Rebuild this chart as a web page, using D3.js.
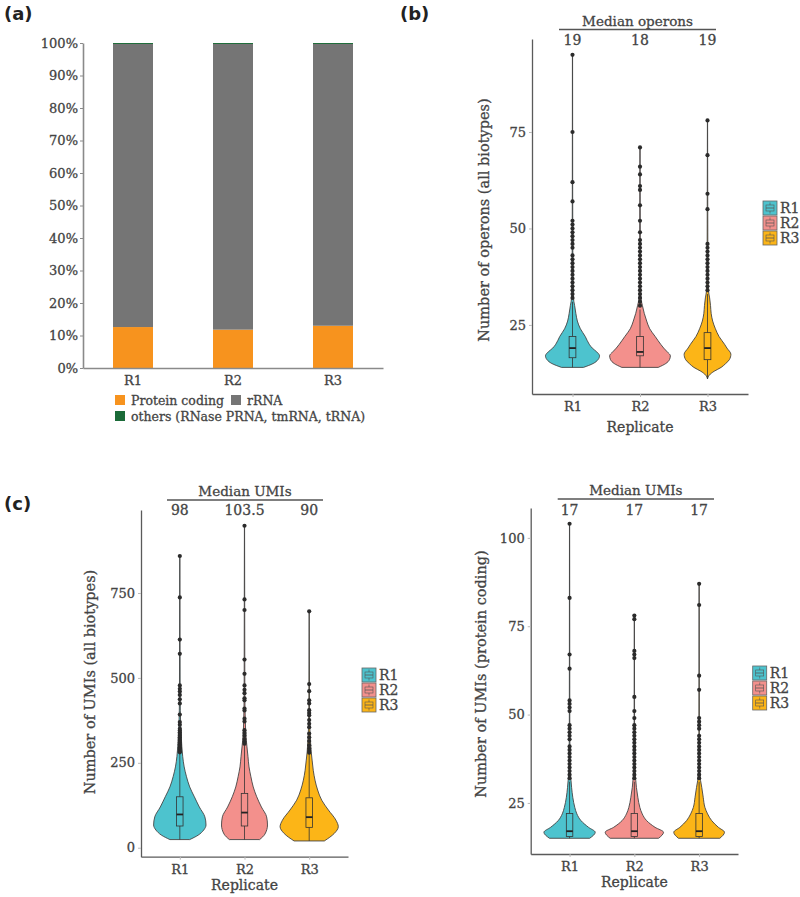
<!DOCTYPE html>
<html>
<head>
<meta charset="utf-8">
<script src="https://cdn.jsdelivr.net/npm/d3@7"></script>
<style>
  body { margin: 0; background: #fff; }
  svg { display: block; }
  text { font-family: "DejaVu Serif", serif; fill: #444; stroke: #444; stroke-width: 0.3px; }
</style>
</head>
<body>
<svg id="fig" width="800" height="897"></svg>
<script>
// ---- data ----
const replicates = ["R1", "R2", "R3"];
const repColors = ["#4DC3CE", "#F3908C", "#FCB517"];

// (a) biotype composition, percent
const pctTicks = [0, 10, 20, 30, 40, 50, 60, 70, 80, 90, 100];
const proteinCodingPct = [12.6, 11.8, 13.0];
const rRNAPct = [87.1, 87.9, 86.7];
const othersPct = [0.3, 0.3, 0.3];
const biotypeNames = ["Protein coding", "rRNA", "others (RNase PRNA, tmRNA, tRNA)"];
const biotypeColors = ["#F7931E", "#757575", "#1B6B38"];

// (b) operons per cell; violin profiles are [value, relative width]
const operonTicks = [25, 50, 75];
const operonMedians = ["19", "18", "19"];
const operonBoxes = [[14, 16.5, 19, 22, 31], [14, 17, 18, 22, 29], [11, 16, 19, 23, 33]]; // min,q1,med,q3,whisker
const operonViolins = [
  [[14,0.36],[15,0.68],[16,0.84],[17,0.89],[18,0.80],[19,0.65],[20,0.55],[22,0.42],[24,0.26],[26,0.16],[28,0.11],[30,0.07],[32,0.03],[40,0.012],[60,0.006],[95,0.003]],
  [[14,0.6],[15,0.85],[16,0.97],[17,1.0],[18,0.9],[19,0.78],[20,0.68],[22,0.5],[24,0.32],[26,0.22],[28,0.14],[30,0.08],[32,0.03],[40,0.012],[71,0.003]],
  [[11,0.0],[12,0.06],[13,0.22],[14,0.45],[15,0.6],[16,0.72],[17.4,0.77],[19,0.64],[20,0.56],[22,0.38],[24,0.26],[26,0.17],[28,0.12],[30,0.1],[32,0.07],[34,0.03],[40,0.012],[78,0.003]]
];
const operonOutliers = [
  [95, 75, 62, 57, 52, 51, 50, 49, 48, 47, 46, 45, 43, 42, 41, 40, 39, 38, 37, 36, 35, 34, 33, 32],
  [71, 66, 64, 61, 60, 56, 52, 49, 47, 46, 45, 44, 43, 42, 41, 40, 39, 38, 37, 36, 35, 34, 33, 32, 31, 30],
  [78, 69, 59, 55, 46, 45, 44, 43, 42, 41, 40, 39, 38, 37, 36, 35, 34]
];

// (c) UMIs, all biotypes
const umiTicks = [0, 250, 500, 750];
const umiMedians = ["98", "103.5", "90"];
const umiBoxes = [[24, 64, 98, 150, 278], [24, 64, 103.5, 160, 300], [20, 60, 90, 147, 276]];
const umiViolins = [
  [[24,0.34],[37,0.63],[52,0.82],[67,0.90],[91,0.86],[120,0.67],[150,0.5],[179,0.34],[209,0.23],[238,0.15],[268,0.1],[297,0.07],[327,0.05],[360,0.03],[450,0.012],[859,0.003]],
  [[24,0.52],[40,0.7],[67,0.79],[91,0.76],[120,0.58],[150,0.42],[179,0.3],[209,0.22],[238,0.155],[268,0.12],[297,0.085],[327,0.05],[370,0.03],[450,0.012],[948,0.003]],
  [[20,0.52],[42,0.86],[62,1.0],[81,0.92],[111,0.66],[140,0.43],[170,0.29],[199,0.2],[228,0.14],[258,0.1],[282,0.07],[320,0.04],[400,0.012],[696,0.003]]
];
const umiOutliers = [
  [859, 737, 613, 571, 478, 468, 460, 450, 437, 425, 392, 370, 362, 350, 345, 340, 335, 330, 325, 320, 315, 310, 305, 300, 296, 292, 288, 284, 281],
  [948, 731, 700, 554, 512, 478, 465, 455, 440, 434, 410, 404, 380, 372, 346, 338, 330, 320, 312, 306],
  [696, 482, 461, 434, 425, 405, 397, 390, 376, 365, 355, 336, 325, 314, 302, 292, 285, 280]
];

// (c) UMIs, protein coding
const pcTicks = [25, 50, 75, 100];
const pcMedians = ["17", "17", "17"];
const pcBoxes = [[15, 15.5, 17, 22, 31], [15, 15.5, 17, 22, 31], [15, 15.5, 17, 22, 31]];
const pcViolins = [
  [[15,0.69],[16.7,0.88],[18.1,0.65],[20,0.39],[21.9,0.25],[23.7,0.18],[26.6,0.11],[29.4,0.07],[31.3,0.05],[34,0.02],[45,0.008],[104,0.003]],
  [[15,0.83],[16.7,1.0],[18.1,0.71],[20,0.42],[21.9,0.27],[23.7,0.19],[26.6,0.12],[29.4,0.07],[31.3,0.05],[34,0.02],[45,0.008],[78,0.003]],
  [[15,0.71],[16.7,0.87],[18.1,0.66],[20,0.43],[21.9,0.29],[23.7,0.2],[26.6,0.14],[29.4,0.09],[31.3,0.05],[34,0.02],[45,0.008],[87,0.003]]
];
const pcOutliers = [
  [104, 83, 67, 63, 54, 53, 52, 51, 47, 46, 45, 44, 43, 41, 40, 39, 38, 37, 36, 35, 34, 33, 32],
  [78, 77, 68, 67, 66, 55, 51, 49, 47, 46, 45, 44, 43, 42, 41, 40, 39, 38, 37, 36, 35, 34, 33, 32],
  [87, 81, 61, 57, 49, 48, 47, 46, 44, 43, 42, 41, 40, 39, 38, 37, 36, 35, 34, 33, 32]
];

const svg = d3.select("#fig");

function panelLabel(txt, x, y) {
  svg.append("text").attr("x", x).attr("y", y)
    .style("font-family", "'DejaVu Sans', sans-serif").style("font-weight", "bold")
    .style("fill", "#222").style("stroke", "none").attr("font-size", 18).text(txt);
}

// ---------- (a) stacked bars ----------
function drawBars() {
  const left = 83, right = 383, top = 43, bottom = 368;
  const x = d3.scaleBand().domain(replicates).range([left, right]).paddingInner(0.6).paddingOuter(0.3);
  const y = d3.scaleLinear().domain([0, 100]).range([bottom, top]);
  const g = svg.append("g");

  replicates.forEach((r, i) => {
    const stack = [proteinCodingPct[i], rRNAPct[i], othersPct[i]];
    let base = 0;
    stack.forEach((v, k) => {
      g.append("rect")
        .attr("x", x(r)).attr("width", x.bandwidth())
        .attr("y", y(base + v)).attr("height", y(base) - y(base + v))
        .attr("fill", biotypeColors[k]);
      base += v;
    });
  });

  const yAxis = g.append("g").attr("transform", "translate(" + left + ",0)")
    .call(d3.axisLeft(y).tickValues(pctTicks).tickFormat(d => d + "%").tickSize(3).tickSizeOuter(0).tickPadding(2));
  const xAxis = g.append("g").attr("transform", "translate(0," + bottom + ")")
    .call(d3.axisBottom(x).tickSize(0).tickSizeOuter(0).tickPadding(8));
  [yAxis, xAxis].forEach(a => {
    a.attr("font-family", null).attr("font-size", 13).style("color", "#8a8a8a");
    a.select(".domain").attr("stroke-width", 1.6);
    a.selectAll("text").style("fill", "#444");
  });

  // legend
  const leg = [[115, 395, 0], [231, 395, 1], [115, 411, 2]];
  leg.forEach(([lx, ly, k]) => {
    g.append("rect").attr("x", lx).attr("y", ly).attr("width", 10).attr("height", 10).attr("fill", biotypeColors[k]);
    g.append("text").attr("x", lx + 16).attr("y", ly + 10).attr("font-size", 12.5).text(biotypeNames[k]);
  });
}

// ---------- violin + box panels ----------
function drawViolinPanel(c) {
  const g = svg.append("g");
  const x = d3.scalePoint().domain(replicates).range([c.left, c.right]).padding(0.6);
  const y = d3.scaleLinear().domain(c.domain).range([c.bottom, c.top]);
  const w = d3.scaleLinear().domain([0, 1]).range([0, x.step() * 0.45]);
  const bw = x.step() * 0.1;

  replicates.forEach((r, i) => {
    const cx = x(r);
    const area = d3.area().curve(d3.curveMonotoneY)
      .y(d => y(d[0])).x0(d => cx - w(d[1])).x1(d => cx + w(d[1]));
    g.append("path").datum(c.profiles[i]).attr("d", area)
      .attr("fill", repColors[i]).attr("stroke", "#444").attr("stroke-width", 0.9);

    const b = c.boxes[i];
    g.append("line").attr("x1", cx).attr("x2", cx).attr("y1", y(b[0])).attr("y2", y(b[1]))
      .attr("stroke", "#333").attr("stroke-width", 0.8);
    g.append("line").attr("x1", cx).attr("x2", cx).attr("y1", y(b[3])).attr("y2", y(b[4]))
      .attr("stroke", "#333").attr("stroke-width", 0.8);
    g.append("rect").attr("x", cx - bw / 2).attr("width", bw)
      .attr("y", y(b[3])).attr("height", y(b[1]) - y(b[3]))
      .attr("fill", repColors[i]).attr("stroke", "#333").attr("stroke-width", 0.8);
    g.append("line").attr("x1", cx - bw / 2).attr("x2", cx + bw / 2).attr("y1", y(b[2])).attr("y2", y(b[2]))
      .attr("stroke", "#222").attr("stroke-width", 1.8);

    g.selectAll(null).data(c.outliers[i]).enter().append("circle")
      .attr("cx", cx).attr("cy", d => y(d)).attr("r", 2.1).attr("fill", "#2b2b2b");

    g.append("text").attr("x", cx).attr("y", c.medNumY).attr("text-anchor", "middle")
      .attr("font-size", 14).text(c.medians[i]);
  });

  const yAxis = g.append("g").attr("transform", "translate(" + c.left + ",0)")
    .call(d3.axisLeft(y).tickValues(c.ticks).tickSize(3).tickSizeOuter(0).tickPadding(3));
  const xAxis = g.append("g").attr("transform", "translate(0," + c.bottom + ")")
    .call(d3.axisBottom(x).tickSize(3).tickSizeOuter(0).tickPadding(5));
  [yAxis, xAxis].forEach(a => {
    a.attr("font-family", null).attr("font-size", 13).style("color", "#5a5a5a");
    a.select(".domain").attr("stroke-width", 1.3);
    a.selectAll(".tick line").attr("stroke", "#bbb");
    a.selectAll("text").style("fill", "#444");
  });

  g.append("text").attr("x", (c.left + c.right) / 2).attr("y", c.xTitleY)
    .attr("text-anchor", "middle").attr("font-size", 14).text("Replicate");
  g.append("text").attr("transform", "translate(" + c.yTitleX + "," + c.yTitleY + ") rotate(-90)")
    .attr("text-anchor", "middle").attr("font-size", 14.5).text(c.yTitle);

  // median header
  g.append("text").attr("x", (c.medX0 + c.medX1) / 2).attr("y", c.medLineY - 4)
    .attr("text-anchor", "middle").attr("font-size", 13.5).text(c.medTitle);
  g.append("line").attr("x1", c.medX0).attr("x2", c.medX1).attr("y1", c.medLineY).attr("y2", c.medLineY)
    .attr("stroke", "#555").attr("stroke-width", 1.5);

  // legend
  replicates.forEach((r, i) => {
    const ly = c.legY + i * 15, lx = c.legX;
    const k = g.append("g").attr("transform", "translate(" + lx + "," + ly + ")");
    k.append("rect").attr("width", 14).attr("height", 14).attr("fill", repColors[i])
      .attr("stroke", "#666").attr("stroke-width", 0.8);
    k.append("rect").attr("x", 3).attr("y", 4).attr("width", 8).attr("height", 6)
      .attr("fill", "none").attr("stroke", "#555").attr("stroke-width", 0.6);
    k.append("line").attr("x1", 3).attr("x2", 11).attr("y1", 7).attr("y2", 7).attr("stroke", "#555").attr("stroke-width", 0.8);
    k.append("line").attr("x1", 7).attr("x2", 7).attr("y1", 1.5).attr("y2", 4).attr("stroke", "#555").attr("stroke-width", 0.6);
    k.append("line").attr("x1", 7).attr("x2", 7).attr("y1", 10).attr("y2", 12.5).attr("stroke", "#555").attr("stroke-width", 0.6);
    k.append("text").attr("x", 17).attr("y", 12).attr("font-size", 14).text(r);
  });
}

drawBars();
panelLabel("(a)", 4, 20);

drawViolinPanel({
  left: 532, right: 748, top: 39, bottom: 394, domain: [7.1, 99.1], ticks: operonTicks,
  profiles: operonViolins, boxes: operonBoxes, outliers: operonOutliers, medians: operonMedians,
  medTitle: "Median operons", medX0: 559, medX1: 716, medLineY: 29.5, medNumY: 45,
  yTitle: "Number of operons (all biotypes)", yTitleX: 489, yTitleY: 220, xTitleY: 432,
  legX: 763, legY: 201
});
panelLabel("(b)", 400, 20);

drawViolinPanel({
  left: 141, right: 348, top: 510, bottom: 856.7, domain: [-26.4, 994.4], ticks: umiTicks,
  profiles: umiViolins, boxes: umiBoxes, outliers: umiOutliers, medians: umiMedians,
  medTitle: "Median UMIs", medX0: 167, medX1: 323, medLineY: 500, medNumY: 515,
  yTitle: "Number of UMIs (all biotypes)", yTitleX: 95, yTitleY: 682, xTitleY: 890,
  legX: 362, legY: 668
});
panelLabel("(c)", 4, 510);

drawViolinPanel({
  left: 530.7, right: 738, top: 508, bottom: 854, domain: [10.55, 108.45], ticks: pcTicks,
  profiles: pcViolins, boxes: pcBoxes, outliers: pcOutliers, medians: pcMedians,
  medTitle: "Median UMIs", medX0: 557.7, medX1: 714, medLineY: 499, medNumY: 515,
  yTitle: "Number of UMIs (protein coding)", yTitleX: 486, yTitleY: 674, xTitleY: 887,
  legX: 752.7, legY: 666
});
</script>
</body>
</html>
